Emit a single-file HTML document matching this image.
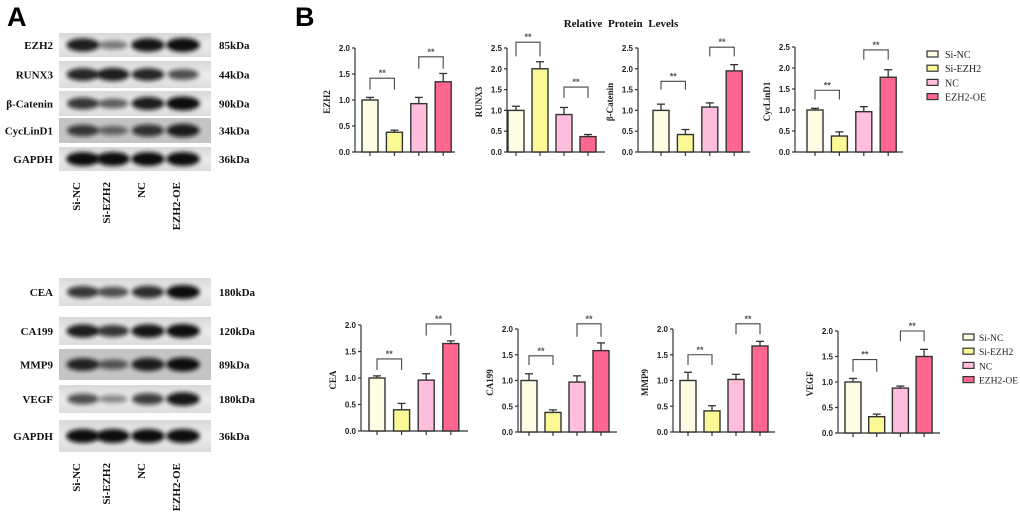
<!DOCTYPE html>
<html><head><meta charset="utf-8"><style>
body{margin:0;background:#fff;}
svg{display:block;}
.lbl{font-family:"Liberation Serif",serif;font-weight:bold;font-size:11px;fill:#111;}
.tick{font-family:"Liberation Sans",sans-serif;font-weight:bold;font-size:8px;fill:#222;}
.yt{font-family:"Liberation Serif",serif;font-weight:bold;font-size:9px;fill:#222;}
.leg{font-family:"Liberation Serif",serif;font-size:10px;fill:#222;}
.star{font-family:"Liberation Sans",sans-serif;font-weight:bold;font-size:9px;fill:#555;}
</style></head><body>
<svg id="fig" width="1020" height="520" viewBox="0 0 1020 520">
<defs>
<filter id="blur" x="-30%" y="-100%" width="160%" height="300%"><feGaussianBlur stdDeviation="2"/></filter>
<linearGradient id="bg" x1="0" y1="0" x2="0" y2="1"><stop offset="0" stop-color="#d8d8d8"/><stop offset="0.5" stop-color="#ececec"/><stop offset="1" stop-color="#dcdcdc"/></linearGradient>
</defs>
<text x="7" y="26" font-family="Liberation Sans,sans-serif" font-weight="bold" font-size="27">A</text>
<text x="295" y="26" font-family="Liberation Sans,sans-serif" font-weight="bold" font-size="27">B</text>
<text x="621" y="27" text-anchor="middle" class="lbl" style="font-size:11px;word-spacing:3px">Relative Protein Levels</text>
<g id="blots"></g>
<g id="charts"></g>
</svg>
<script>
const NS='http://www.w3.org/2000/svg';
function mk(tag,attrs,parent){const e=document.createElementNS(NS,tag);for(const k in attrs)e.setAttribute(k,attrs[k]);parent.appendChild(e);return e;}
const groups=['Si-NC','Si-EZH2','NC','EZH2-OE'];
const colors=['#fffce4','#fbf896','#ffbedb','#ff6690'];

// Chart data
const ezh2Vals=[1.0,0.38,0.93,1.35], ezh2Err=[0.05,0.04,0.12,0.16];
const runx3Vals=[1.0,2.0,0.9,0.37], runx3Err=[0.1,0.17,0.17,0.05];
const catVals=[1.0,0.42,1.08,1.95], catErr=[0.15,0.12,0.1,0.15];
const cycVals=[1.0,0.38,0.96,1.78], cycErr=[0.04,0.1,0.12,0.18];
const ceaVals=[1.0,0.4,0.96,1.65], ceaErr=[0.04,0.12,0.12,0.05];
const ca199Vals=[1.0,0.38,0.97,1.58], ca199Err=[0.13,0.05,0.12,0.15];
const mmp9Vals=[1.0,0.41,1.02,1.67], mmp9Err=[0.16,0.1,0.1,0.09];
const vegfVals=[1.0,0.32,0.88,1.5], vegfErr=[0.07,0.05,0.04,0.14];
// bracket levels [top, drop] for pair1 and pair2
const ezh2Br=[[1.42,1.2],[1.83,1.6]];
const runx3Br=[[2.64,2.3],[1.56,1.3]];
const catBr=[[1.7,1.5],[2.52,2.3]];
const cycBr=[[1.47,1.25],[2.43,2.2]];
const ceaBr=[[1.36,1.15],[2.02,1.8]];
const ca199Br=[[1.48,1.3],[2.1,1.85]];
const mmp9Br=[[1.5,1.3],[2.1,1.9]];
const vegfBr=[[1.44,1.2],[2.0,1.8]];
const ticks2=['0.0','0.5','1.0','1.5','2.0'];
const ticks25=['0.0','0.5','1.0','1.5','2.0','2.5'];

const charts=[
 {name:'ezh2',title:'EZH2',vals:ezh2Vals,err:ezh2Err,br:ezh2Br,ticks:ticks2,ax:355,end:455,y0:152,yT:48,c0:370,dc:24.4,bw:16},
 {name:'runx3',title:'RUNX3',vals:runx3Vals,err:runx3Err,br:runx3Br,ticks:ticks25,ax:507,end:605,y0:152,yT:48,c0:516,dc:24,bw:16},
 {name:'beta-catenin',title:'β-Catenin',vals:catVals,err:catErr,br:catBr,ticks:ticks25,ax:638,end:750,y0:152,yT:48,c0:661,dc:24.4,bw:16},
 {name:'cyclind1',title:'CycLinD1',vals:cycVals,err:cycErr,br:cycBr,ticks:ticks25,ax:795,end:903,y0:152,yT:47,c0:815,dc:24.4,bw:16},
 {name:'cea',title:'CEA',vals:ceaVals,err:ceaErr,br:ceaBr,ticks:ticks2,ax:361,end:468,y0:431,yT:325,c0:377,dc:24.6,bw:16},
 {name:'ca199',title:'CA199',vals:ca199Vals,err:ca199Err,br:ca199Br,ticks:ticks2,ax:518,end:617,y0:432,yT:329,c0:529,dc:24,bw:16},
 {name:'mmp9',title:'MMP9',vals:mmp9Vals,err:mmp9Err,br:mmp9Br,ticks:ticks2,ax:673,end:775,y0:432,yT:329,c0:688,dc:24,bw:16},
 {name:'vegf',title:'VEGF',vals:vegfVals,err:vegfErr,br:vegfBr,ticks:ticks2,ax:838,end:940,y0:433,yT:331,c0:853,dc:23.7,bw:16}
];
const root=document.getElementById('charts');
charts.forEach(c=>{
 const g=mk('g',{},root);
 
 
 const max=parseFloat(c.ticks[c.ticks.length-1]);
 const y=v=>c.y0-(v/max)*(c.y0-c.yT);
 const x=i=>c.c0+i*c.dc;
 const ya=mk('line',{x1:c.ax,y1:c.yT,x2:c.ax,y2:c.y0,stroke:'#333','stroke-width':1.2},g);
 
 const xa=mk('line',{x1:c.ax,y1:c.y0,x2:c.end,y2:c.y0,stroke:'#333','stroke-width':1.2},g);
 
 c.ticks.forEach(t=>{
  const v=parseFloat(t);
  mk('line',{x1:c.ax-3,y1:y(v),x2:c.ax,y2:y(v),stroke:'#333','stroke-width':1.2},g);
  const tx=mk('text',{x:c.ax-5,y:y(v)+3,'text-anchor':'end',class:'tick'},g);
  tx.textContent=t;
  
 });
 const yt=mk('text',{x:0,y:0,'text-anchor':'middle',class:'yt',transform:`translate(${c.ax-25},${(c.y0+c.yT)/2+2}) rotate(-90)`},g);
 yt.textContent=c.title;
 
 c.vals.forEach((v,i)=>{
  const cx=x(i);
  mk('line',{x1:cx,y1:c.y0,x2:cx,y2:c.y0+4,stroke:'#333','stroke-width':1.2},g);
  const e=c.err[i];
  mk('line',{x1:cx,y1:y(v),x2:cx,y2:y(v+e),stroke:'#333','stroke-width':1.3},g);
  mk('line',{x1:cx-4,y1:y(v+e),x2:cx+4,y2:y(v+e),stroke:'#333','stroke-width':1.3},g);
  const b=mk('rect',{x:cx-c.bw/2,y:y(v),width:c.bw,height:c.y0-y(v),fill:colors[i],stroke:'#333','stroke-width':1.4},g);
  
  
 });
 c.br.forEach((br,p)=>{
  const xa1=x(p*2),xb=x(p*2+1);
  const pth=mk('path',{d:`M${xa1},${y(br[1])}V${y(br[0])}H${xb}V${y(br[1])}`,fill:'none',stroke:'#444','stroke-width':1.1},g);
  
  const s=mk('text',{x:(xa1+xb)/2,y:y(br[0])-2,'text-anchor':'middle',class:'star'},g);
  s.textContent='**';
  
 });
});
[[927,54],[963,337]].forEach(([lx,ly],k)=>{
 const g=mk('g',{},root);
 
 
 groups.forEach((n,i)=>{
  const yy=ly+i*14.2;
  mk('rect',{x:lx,y:yy-3,width:11,height:6,fill:colors[i],stroke:'#333','stroke-width':1.2},g);
  const t=mk('text',{x:lx+(k?16:18),y:yy+4,class:'leg',style:k?'font-size:9.5px':''},g);
  t.textContent=n;
  
 });
});

const blotTop=[
 {n:'EZH2',kd:'85kDa',y:33,h:24,s:[0.9,0.35,0.95,1.0]},
 {n:'RUNX3',kd:'44kDa',y:61,h:27,s:[0.85,0.9,0.85,0.6]},
 {n:'β-Catenin',kd:'90kDa',y:91,h:25,s:[0.75,0.5,0.9,1.0]},
 {n:'CycLinD1',kd:'34kDa',y:118,h:25,s:[0.7,0.4,0.75,0.9],dark:1},
 {n:'GAPDH',kd:'36kDa',y:147,h:24,s:[1,1,1,1]}
];
const blotBot=[
 {n:'CEA',kd:'180kDa',y:278,h:28,s:[0.75,0.6,0.8,1.0]},
 {n:'CA199',kd:'120kDa',y:317,h:28,s:[0.9,0.75,0.95,1.0]},
 {n:'MMP9',kd:'89kDa',y:349,h:31,s:[0.85,0.5,0.9,1.0],dark:1},
 {n:'VEGF',kd:'180kDa',y:385,h:28,s:[0.6,0.25,0.7,0.95]},
 {n:'GAPDH',kd:'36kDa',y:420,h:32,s:[1,1,1,1]}
];
const laneX=[83,113,148,183];
const bl=document.getElementById('blots');
function drawBlots(rows,laneY){
 rows.forEach(r=>{
  const g=mk('g',{},bl);
  
  
  mk('rect',{x:59,y:r.y,width:152,height:r.h,fill:r.dark?'#c4c4c4':'url(#bg)'},g);
  laneX.forEach((lx,i)=>{
   const s=r.s[i];
   mk('ellipse',{cx:lx,cy:r.y+r.h/2,rx:14+3*s,ry:3+4*s,fill:'#111',opacity:0.25+0.75*s,filter:'url(#blur)'},g);
  });
  const t=mk('text',{x:53,y:r.y+r.h/2+4,'text-anchor':'end',class:'lbl'},g);
  t.textContent=r.n;
  
  const k=mk('text',{x:219,y:r.y+r.h/2+4,class:'lbl'},g);
  k.textContent=r.kd;
  
 });
 groups.forEach((n,i)=>{
  const t=mk('text',{x:0,y:0,'text-anchor':'end',class:'lbl',transform:`translate(${laneX[i]-3},${laneY}) rotate(-90)`},bl);
  t.textContent=n;
  
 });
}
drawBlots(blotTop,182);
drawBlots(blotBot,463);
</script>
</body></html>
